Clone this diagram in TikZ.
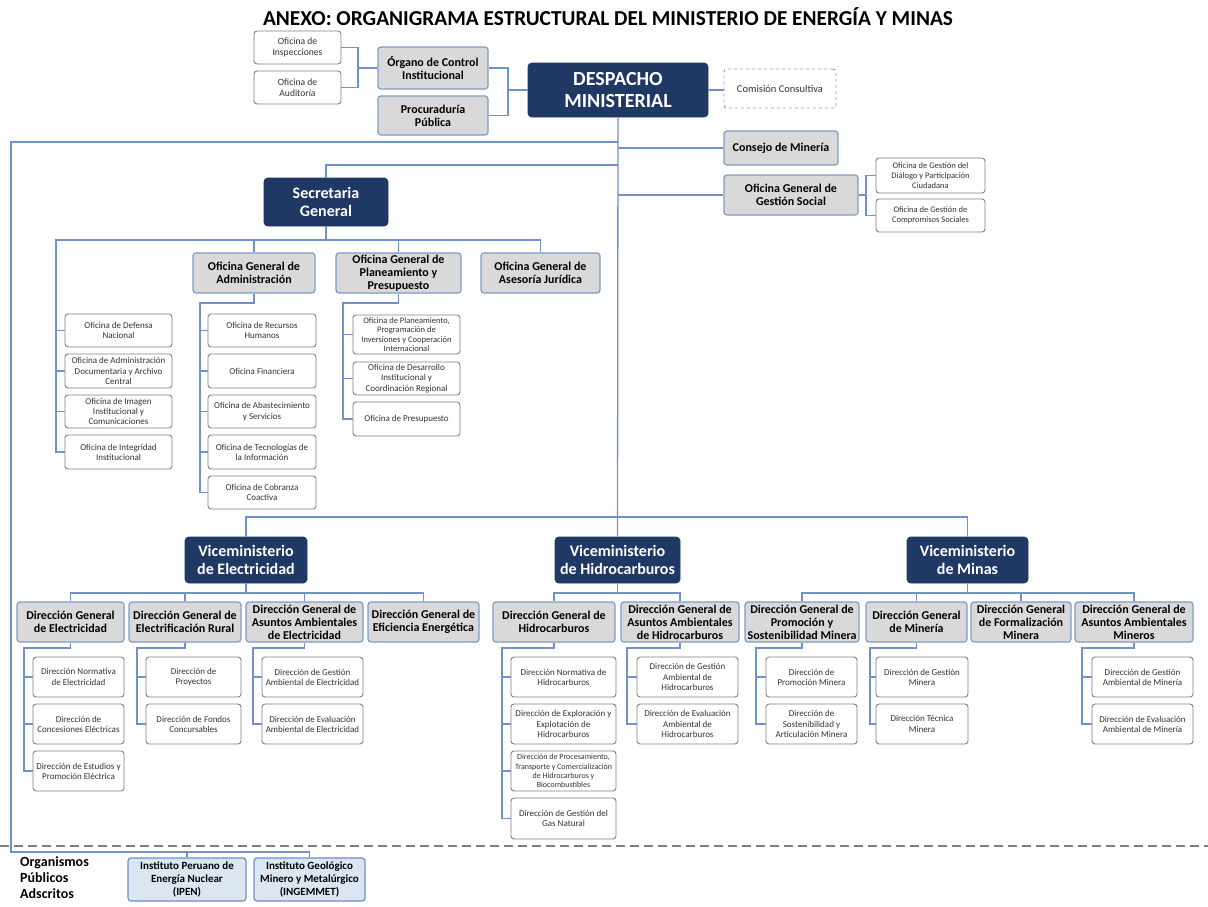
\documentclass[tikz,border=0pt]{standalone}
\usepackage{fontspec}
\setmainfont{Carlito}
\definecolor{navy}{HTML}{1F3864}
\definecolor{gfill}{HTML}{D9D9D9}
\definecolor{gborder}{HTML}{7F9BC4}
\definecolor{lblue}{HTML}{6F93C9}
\definecolor{wborder}{HTML}{808080}
\definecolor{wtext}{HTML}{333333}
\definecolor{bfill}{HTML}{DCE6F2}
\definecolor{bborder}{HTML}{6D8FC5}
\definecolor{cborder}{HTML}{9A98B8}
\definecolor{sepgray}{HTML}{7F7F7F}
\tikzset{
 base/.style={rounded corners=3pt, align=center, inner sep=1pt, line width=0.9pt},
 navybox/.style={base, fill=navy, draw=navy, text=white, rounded corners=4pt},
 graybox/.style={base, fill=gfill, draw=gborder, line width=1.2pt, font={\fontsize{12}{13}\selectfont\bfseries}},
 whitebox/.style={base, fill=white, draw=wborder, text=wtext, font={\fontsize{9}{10.2}\selectfont}},
 topbox/.style={whitebox, font={\fontsize{9.6}{11}\selectfont}},
 smallbox/.style={whitebox, font={\fontsize{8.5}{9.6}\selectfont}},
 tinybox/.style={whitebox, font={\fontsize{8}{9.2}\selectfont}},
 dashbox/.style={base, draw=cborder, dashed, text=wtext, font={\fontsize{10.5}{12}\selectfont}},
 bluebox/.style={base, fill=bfill, draw=bborder, line width=1.2pt, font={\fontsize{11}{13}\selectfont\bfseries}},
 conn/.style={draw=lblue, line width=1.3pt},
}
\newcommand\bx[7]{\node[#1, minimum width={(#5)-(#3)}, minimum height={(#6)-(#4)}] (#2) at ({((#3)+(#5))/2},{((#4)+(#6))/2}) {#7};}
\begin{document}
\begin{tikzpicture}[x=1pt,y=-1pt]
\useasboundingbox (0,0) rectangle (1208,906);
\fill[white] (0,0) rectangle (1208,906);
\node[font={\fontsize{21.3}{24}\selectfont\bfseries}] (title) at (608,17) {ANEXO: ORGANIGRAMA ESTRUCTURAL DEL MINISTERIO DE ENERGÍA Y MINAS};

% top
\bx{topbox}{insp}{254}{31}{341}{64}{Oficina de\\Inspecciones}
\bx{topbox}{audi}{254}{71}{341}{104}{Oficina de\\Auditoría}
\bx{graybox}{oci}{378}{47}{488}{89}{Órgano de Control\\Institucional}
\bx{graybox}{proc}{378}{96}{488}{135}{Procuraduría\\Pública}
\bx{navybox, font={\fontsize{20}{22}\selectfont\bfseries}}{desp}{528}{63}{708}{117}{DESPACHO\\MINISTERIAL}
\bx{dashbox}{comi}{724}{69}{836}{108}{Comisión Consultiva}
\bx{graybox}{cm}{724}{131}{838}{165}{Consejo de Minería}
\bx{graybox}{oggs}{724}{175}{858}{215}{Oficina General de\\Gestión Social}
\bx{smallbox}{ogd}{876}{158}{985}{193}{Oficina de Gestión del\\Diálogo y Participación\\Ciudadana}
\bx{smallbox}{ogc}{876}{199}{985}{232}{Oficina de Gestión de\\Compromisos Sociales}

% secretaria
\bx{navybox, font={\fontsize{16}{18}\selectfont\bfseries}}{sg}{264}{178}{388}{226}{Secretaria\\General}
\bx{graybox}{oga}{193}{253}{315}{293}{Oficina General de\\Administración}
\bx{graybox}{ogpp}{336}{253}{461}{293}{Oficina General de\\Planeamiento y\\Presupuesto}
\bx{graybox}{ogaj}{481}{253}{600}{293}{Oficina General de\\Asesoría Jurídica}
\bx{whitebox}{sl1}{65}{314}{172}{347}{Oficina de Defensa\\Nacional}
\bx{whitebox}{sl2}{65}{354}{172}{388}{Oficina de Administración\\Documentaria y Archivo\\Central}
\bx{whitebox}{sl3}{65}{395}{172}{428}{Oficina de Imagen\\Institucional y\\Comunicaciones}
\bx{whitebox}{sl4}{65}{435}{172}{469}{Oficina de Integridad\\Institucional}
\bx{whitebox}{sa1}{208}{314}{316}{347}{Oficina de Recursos\\Humanos}
\bx{whitebox}{sa2}{208}{354}{316}{388}{Oficina Financiera}
\bx{whitebox}{sa3}{208}{395}{316}{428}{Oficina de Abastecimiento\\y Servicios}
\bx{whitebox}{sa4}{208}{435}{316}{469}{Oficina de Tecnologías de\\la Información}
\bx{whitebox}{sa5}{208}{476}{316}{509}{Oficina de Cobranza\\Coactiva}
\bx{smallbox}{sp1}{353}{315}{460}{354}{Oficina de Planeamiento,\\Programación de\\Inversiones y Cooperación\\Internacional}
\bx{whitebox}{sp2}{353}{362}{460}{395}{Oficina de Desarrollo\\Institucional y\\Coordinación Regional}
\bx{whitebox}{sp3}{353}{402}{460}{436}{Oficina de Presupuesto}

% viceministerios
\bx{navybox, font={\fontsize{16}{18}\selectfont\bfseries}}{vel}{185}{537}{307}{583}{Viceministerio\\de Electricidad}
\bx{navybox, font={\fontsize{16}{18}\selectfont\bfseries}}{vhi}{555}{537}{680}{583}{Viceministerio\\de Hidrocarburos}
\bx{navybox, font={\fontsize{16}{18}\selectfont\bfseries}}{vmi}{907}{537}{1028}{583}{Viceministerio\\de Minas}

% electricidad
\bx{graybox}{dge}{17}{602}{124}{642}{Dirección General\\de Electricidad}
\bx{graybox}{dger}{129}{602}{241}{642}{Dirección General de\\Electrificación Rural}
\bx{graybox}{dgae}{246}{602}{363}{642}{Dirección General de\\Asuntos Ambientales\\de Electricidad}
\bx{graybox}{dgee}{368}{602}{479}{642}{Dirección General de\\Eficiencia Energética}
\bx{whitebox}{de1}{33}{657}{124}{697}{Dirección Normativa\\de Electricidad}
\bx{whitebox}{de2}{33}{704}{124}{744}{Dirección de\\Concesiones Eléctricas}
\bx{whitebox}{de3}{33}{751}{124}{791}{Dirección de Estudios y\\Promoción Eléctrica}
\bx{whitebox}{dr1}{146}{657}{241}{697}{Dirección de\\Proyectos}
\bx{whitebox}{dr2}{146}{704}{241}{744}{Dirección de Fondos\\Concursables}
\bx{whitebox}{da1}{262}{657}{363}{697}{Dirección de Gestión\\Ambiental de Electricidad}
\bx{whitebox}{da2}{262}{704}{363}{744}{Dirección de Evaluación\\Ambiental de Electricidad}

% hidrocarburos
\bx{graybox}{dgh}{493}{602}{615}{642}{Dirección General de\\Hidrocarburos}
\bx{graybox}{dgah}{621}{602}{739}{642}{Dirección General de\\Asuntos Ambientales\\de Hidrocarburos}
\bx{whitebox}{dh1}{511}{657}{616}{697}{Dirección Normativa de\\Hidrocarburos}
\bx{whitebox}{dh2}{511}{704}{616}{744}{Dirección de Exploración y\\Explotación de\\Hidrocarburos}
\bx{tinybox}{dh3}{511}{751}{616}{791}{Dirección de Procesamiento,\\Transporte y Comercialización\\de Hidrocarburos y\\Biocombustibles}
\bx{whitebox}{dh4}{511}{798}{616}{839}{Dirección de Gestión del\\Gas Natural}
\bx{whitebox}{dah1}{637}{657}{738}{697}{Dirección de Gestión\\Ambiental de\\Hidrocarburos}
\bx{whitebox}{dah2}{637}{704}{738}{744}{Dirección de Evaluación\\Ambiental de\\Hidrocarburos}

% minas
\bx{graybox}{dgps}{745}{602}{859}{642}{Dirección General de\\Promoción y\\Sostenibilidad Minera}
\bx{graybox}{dgm}{866}{602}{967}{642}{Dirección General\\de Minería}
\bx{graybox}{dgfm}{971}{602}{1071}{642}{Dirección General\\de Formalización\\Minera}
\bx{graybox}{dgaam}{1075}{602}{1193}{642}{Dirección General de\\Asuntos Ambientales\\Mineros}
\bx{whitebox}{dp1}{766}{657}{857}{697}{Dirección de\\Promoción Minera}
\bx{whitebox}{dp2}{766}{704}{857}{744}{Dirección de\\Sostenibilidad y\\Articulación Minera}
\bx{whitebox}{dm1}{876}{657}{968}{697}{Dirección de Gestión\\Minera}
\bx{whitebox}{dm2}{876}{704}{968}{744}{Dirección Técnica\\Minera}
\bx{whitebox}{dam1}{1092}{657}{1193}{697}{Dirección de Gestión\\Ambiental de Minería}
\bx{whitebox}{dam2}{1092}{704}{1193}{744}{Dirección de Evaluación\\Ambiental de Minería}

% organismos
\draw[sepgray, line width=1.5pt, dash pattern=on 9pt off 5pt] (0,846) -- (1208,846);
\node[anchor=north west, align=left, inner sep=0pt, font={\fontsize{14}{16}\selectfont\bfseries}] (opa) at (20,856) {Organismos\\Públicos\\Adscritos};
\bx{bluebox}{ipen}{128}{858}{246}{901}{Instituto Peruano de\\Energía Nuclear\\(IPEN)}
\bx{bluebox}{ingem}{254}{858}{365}{901}{Instituto Geológico\\Minero y Metalúrgico\\(INGEMMET)}

% connectors top
\coordinate (j1) at (358,68);
\draw[conn] (insp.east) -| (j1) |- (audi.east);
\draw[conn] (j1) -- (oci.west);
\coordinate (j2) at (508,90);
\draw[conn] (oci.east) -| (j2) |- (proc.east);
\draw[conn] (j2) -- (desp.west);
\draw[conn] (desp.east) -- (desp.east -| comi.west);
% spine
\draw[conn] (desp.south) -- (vhi.north);
\coordinate (lft) at (11,142);
\coordinate (obus) at (11,852);
\draw[conn] (desp.south |- lft) -- (lft) -- (obus) -| (ingem.north);
\draw[conn] (ipen.north) -- (ipen.north |- obus);
\draw[conn] (desp.south |- cm.west) -- (cm.west);
\draw[conn] (desp.south |- oggs.west) -- (oggs.west);
\coordinate (sgj) at (618,165);
\draw[conn] (sgj) -| (sg.north);
\coordinate (gj) at (866,195);
\draw[conn] (oggs.east) -- (oggs.east -| gj);
\draw[conn] (ogd.west) -| (gj) |- (ogc.west);
% secretaria
\coordinate (sb) at (56,240);
\draw[conn] (sg.south) -- (sg.south |- sb);
\draw[conn] (sl4.west) -| (sb) -| (ogaj.north);
\draw[conn] (oga.north) -- (oga.north |- sb);
\draw[conn] (ogpp.north) -- (ogpp.north |- sb);
\foreach \n in {sl1,sl2,sl3} \draw[conn] (sb |- \n.west) -- (\n.west);
\coordinate (ab) at (200,303);
\draw[conn] (oga.south) |- (ab) |- (sa5.west);
\foreach \n in {sa1,sa2,sa3,sa4} \draw[conn] (ab |- \n.west) -- (\n.west);
\coordinate (pb) at (343,303);
\draw[conn] (ogpp.south) |- (pb) |- (sp3.west);
\foreach \n in {sp1,sp2} \draw[conn] (pb |- \n.west) -- (\n.west);
% vice bus
\coordinate (vb) at (618,517);
\draw[conn] (vel.north) |- (vb) -| (vmi.north);
% electricidad
\coordinate (eb) at (247,593);
\draw[conn] (vel.south) -- (vel.south |- eb);
\draw[conn] (dge.north) |- (eb) -| (dgee.north);
\draw[conn] (dger.north) -- (dger.north |- eb);
\draw[conn] (dgae.north) -- (dgae.north |- eb);
\coordinate (e1) at (24,648);
\draw[conn] (dge.south) |- (e1) |- (de3.west);
\foreach \n in {de1,de2} \draw[conn] (e1 |- \n.west) -- (\n.west);
\coordinate (e2) at (137,648);
\draw[conn] (dger.south) |- (e2) |- (dr2.west);
\draw[conn] (e2 |- dr1.west) -- (dr1.west);
\coordinate (e3) at (253,648);
\draw[conn] (dgae.south) |- (e3) |- (da2.west);
\draw[conn] (e3 |- da1.west) -- (da1.west);
% hidrocarburos
\coordinate (hb) at (618,593);
\draw[conn] (vhi.south) -- (vhi.south |- hb);
\draw[conn] (dgh.north) |- (hb) -| (dgah.north);
\coordinate (h1) at (502,648);
\draw[conn] (dgh.south) |- (h1) |- (dh4.west);
\foreach \n in {dh1,dh2,dh3} \draw[conn] (h1 |- \n.west) -- (\n.west);
\coordinate (h2) at (627,648);
\draw[conn] (dgah.south) |- (h2) |- (dah2.west);
\draw[conn] (h2 |- dah1.west) -- (dah1.west);
% minas
\coordinate (mb) at (968,593);
\draw[conn] (vmi.south) -- (vmi.south |- mb);
\draw[conn] (dgps.north) |- (mb) -| (dgaam.north);
\draw[conn] (dgm.north) -- (dgm.north |- mb);
\draw[conn] (dgfm.north) -- (dgfm.north |- mb);
\coordinate (m1) at (756,648);
\draw[conn] (dgps.south) |- (m1) |- (dp2.west);
\draw[conn] (m1 |- dp1.west) -- (dp1.west);
\coordinate (m2) at (870,648);
\draw[conn] (dgm.south) |- (m2) |- (dm2.west);
\draw[conn] (m2 |- dm1.west) -- (dm1.west);
\coordinate (m3) at (1082,648);
\draw[conn] (dgaam.south) |- (m3) |- (dam2.west);
\draw[conn] (m3 |- dam1.west) -- (dam1.west);
\end{tikzpicture}
\end{document}
